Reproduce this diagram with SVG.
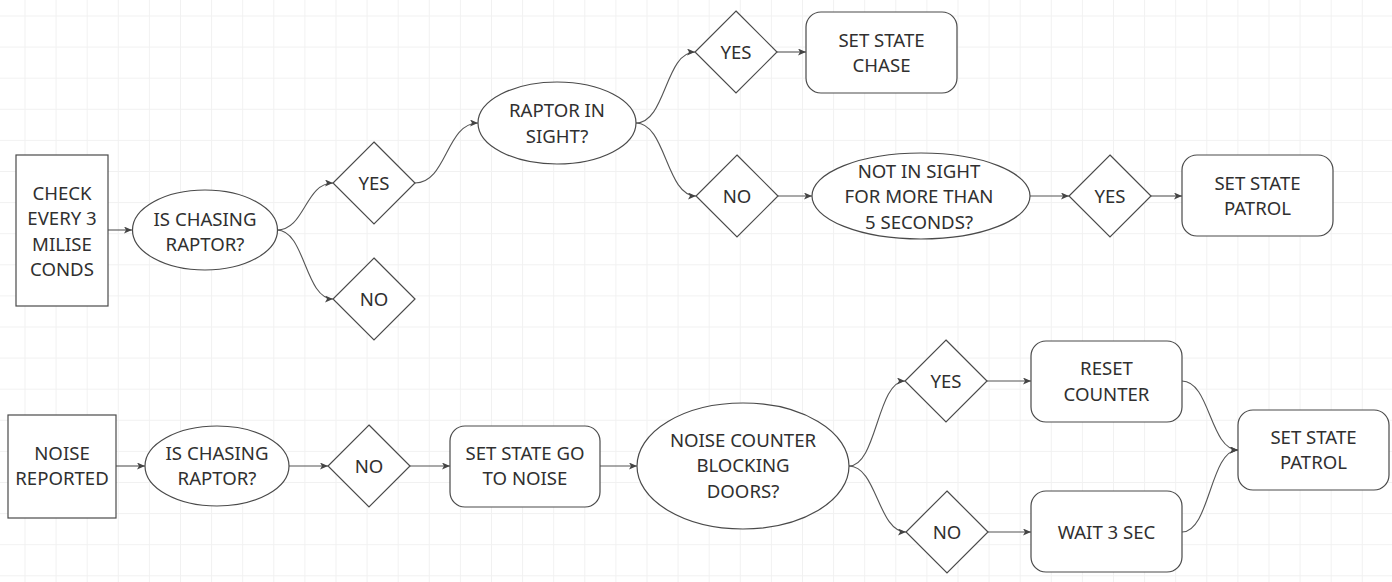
<svg xmlns="http://www.w3.org/2000/svg" width="1392" height="582" viewBox="0 0 1392 582">
<style>
.s{fill:#ffffff;stroke:#4a4a4a;stroke-width:1.2}
.t{font-family:"Noto Sans","Open Sans",sans-serif;font-size:18.6px;fill:#303030;text-anchor:middle}
.c{fill:none;stroke:#555555;stroke-width:1.1;marker-end:url(#ah)}
</style>
<defs>
<pattern id="grid" x="24.5" y="15.5" width="31.1" height="31.1" patternUnits="userSpaceOnUse">
<path d="M0.5 0V31.1M0 0.5H31.1" stroke="#f1f1f1" stroke-width="1" fill="none"/>
</pattern>
<marker id="ah" viewBox="0 0 8 7" refX="8" refY="3.5" markerWidth="8" markerHeight="7" markerUnits="userSpaceOnUse" orient="auto">
<path d="M0 0L8 3.5L0 7L2 3.5z" fill="#444444"/>
</marker>
</defs>
<rect width="1392" height="582" fill="#ffffff"/>
<rect width="1392" height="582" fill="url(#grid)"/>

<g id="connectors">
<path class="c" d="M108 230H132"/>
<path class="c" d="M277 230C305 230 305 183 333 183"/>
<path class="c" d="M277 230C305 230 305 299 333 299"/>
<path class="c" d="M415 183C447 183 446 123 478 123"/>
<path class="c" d="M636 123C666 123 665 52 695 52"/>
<path class="c" d="M636 123C666 123 666 196 696 196"/>
<path class="c" d="M777 52H806"/>
<path class="c" d="M778 196H812"/>
<path class="c" d="M1030 196H1069"/>
<path class="c" d="M1151 196H1182"/>
<path class="c" d="M116 466H145"/>
<path class="c" d="M289 466H328"/>
<path class="c" d="M410 466H450"/>
<path class="c" d="M600 466H637"/>
<path class="c" d="M849 466C877 466 877 381 905 381"/>
<path class="c" d="M849 466C877 466 878 532 906 532"/>
<path class="c" d="M987 381H1031"/>
<path class="c" d="M988 532H1031"/>
<path class="c" d="M1182 381C1210 381 1210 450 1238 450"/>
<path class="c" d="M1182 532C1210 532 1210 450 1238 450"/>
</g>

<g id="n1"><rect class="s" x="16" y="155" width="92" height="151"/>
<text class="t" x="62" y="199.5">CHECK</text><text class="t" x="62" y="225">EVERY 3</text><text class="t" x="62" y="250.5">MILISE</text><text class="t" x="62" y="276">CONDS</text></g>

<g id="n2"><ellipse class="s" cx="205" cy="230" rx="72.5" ry="40"/>
<text class="t" x="205" y="225.5">IS CHASING</text><text class="t" x="205" y="250.5">RAPTOR?</text></g>

<g id="n3"><path class="s" d="M374 142L415 183L374 224L333 183z"/><text class="t" x="374" y="189.5">YES</text></g>
<g id="n4"><path class="s" d="M374 258L415 299L374 340L333 299z"/><text class="t" x="374" y="305.5">NO</text></g>

<g id="n5"><ellipse class="s" cx="557" cy="123" rx="79" ry="41"/>
<text class="t" x="557" y="116.5">RAPTOR IN</text><text class="t" x="557" y="142.5">SIGHT?</text></g>

<g id="n6"><path class="s" d="M736 11L777 52L736 93L695 52z"/><text class="t" x="736" y="58.5">YES</text></g>
<g id="n7"><rect class="s" x="806" y="12" width="151" height="81" rx="15"/>
<text class="t" x="881.5" y="46.5">SET STATE</text><text class="t" x="881.5" y="72">CHASE</text></g>

<g id="n8"><path class="s" d="M737 155L778 196L737 237L696 196z"/><text class="t" x="737" y="202.5">NO</text></g>
<g id="n9"><ellipse class="s" cx="921" cy="196" rx="109" ry="43"/>
<text class="t" x="919" y="177.5">NOT IN SIGHT</text><text class="t" x="919" y="203">FOR MORE THAN</text><text class="t" x="919" y="228.5">5 SECONDS?</text></g>

<g id="n10"><path class="s" d="M1110 155L1151 196L1110 237L1069 196z"/><text class="t" x="1110" y="202.5">YES</text></g>
<g id="n11"><rect class="s" x="1182" y="155" width="151" height="81" rx="15"/>
<text class="t" x="1257.5" y="189.5">SET STATE</text><text class="t" x="1257.5" y="215">PATROL</text></g>

<g id="n12"><rect class="s" x="8" y="415" width="108" height="103"/>
<text class="t" x="62" y="459.5">NOISE</text><text class="t" x="62" y="485">REPORTED</text></g>

<g id="n13"><ellipse class="s" cx="217" cy="466" rx="72" ry="40"/>
<text class="t" x="217" y="459.5">IS CHASING</text><text class="t" x="217" y="485">RAPTOR?</text></g>

<g id="n14"><path class="s" d="M369 425L410 466L369 507L328 466z"/><text class="t" x="369" y="472.5">NO</text></g>

<g id="n15"><rect class="s" x="450" y="426" width="150" height="81" rx="15"/>
<text class="t" x="525" y="459.5">SET STATE GO</text><text class="t" x="525" y="485">TO NOISE</text></g>

<g id="n16"><ellipse class="s" cx="743" cy="466" rx="106" ry="63"/>
<text class="t" x="743" y="446.5">NOISE COUNTER</text><text class="t" x="743" y="472">BLOCKING</text><text class="t" x="743" y="497.5">DOORS?</text></g>

<g id="n17"><path class="s" d="M946 340L987 381L946 422L905 381z"/><text class="t" x="946" y="387.5">YES</text></g>
<g id="n18"><rect class="s" x="1031" y="341" width="151" height="81" rx="15"/>
<text class="t" x="1106.5" y="375">RESET</text><text class="t" x="1106.5" y="400.5">COUNTER</text></g>

<g id="n19"><path class="s" d="M947 491L988 532L947 573L906 532z"/><text class="t" x="947" y="538.5">NO</text></g>
<g id="n20"><rect class="s" x="1031" y="491" width="151" height="81" rx="15"/>
<text class="t" x="1106.5" y="538.5">WAIT 3 SEC</text></g>

<g id="n21"><rect class="s" x="1238" y="410" width="151" height="80" rx="15"/>
<text class="t" x="1313.5" y="443.5">SET STATE</text><text class="t" x="1313.5" y="469">PATROL</text></g>
</svg>
